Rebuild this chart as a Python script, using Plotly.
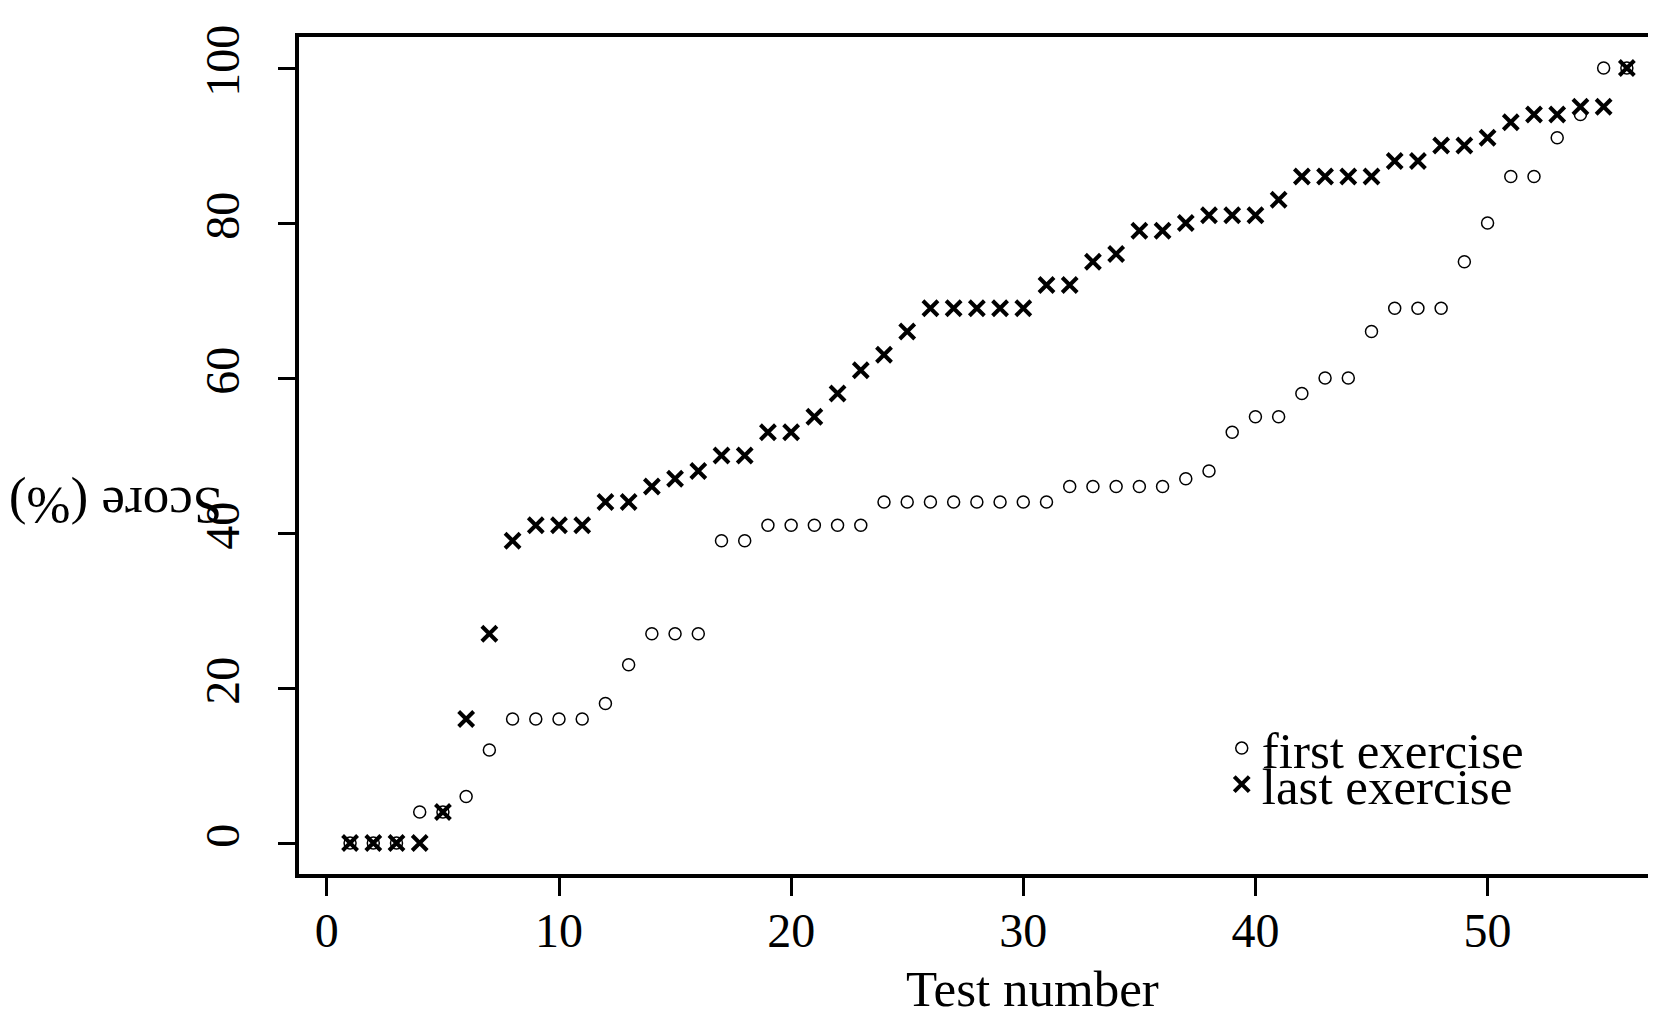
import plotly.graph_objects as go

test_no = list(range(1, 57))
first_ex = [0, 0, 0, 4, 4, 6, 12, 16, 16, 16, 16, 18, 23, 27, 27, 27, 39, 39, 41, 41,
            41, 41, 41, 44, 44, 44, 44, 44, 44, 44, 44, 46, 46, 46, 46, 46, 47, 48, 53, 55,
            55, 58, 60, 60, 66, 69, 69, 69, 75, 80, 86, 86, 91, 94, 100, 100]
last_ex = [0, 0, 0, 0, 4, 16, 27, 39, 41, 41, 41, 44, 44, 46, 47, 48, 50, 50, 53, 53,
           55, 58, 61, 63, 66, 69, 69, 69, 69, 69, 72, 72, 75, 76, 79, 79, 80, 81, 81, 81,
           83, 86, 86, 86, 86, 88, 88, 90, 90, 91, 93, 94, 94, 95, 95, 100]

serif = "Liberation Serif, Times New Roman, serif"

fig = go.Figure()
fig.add_trace(go.Scatter(x=test_no, y=first_ex, mode="markers", name="first exercise",
                         marker=dict(symbol="circle-open", size=12, color="black",
                                     line=dict(width=1.5, color="black")),
                         legend="legend", showlegend=True))
fig.add_trace(go.Scatter(x=test_no, y=last_ex, mode="markers", name="last exercise",
                         marker=dict(symbol="x-thin", size=15, color="black",
                                     line=dict(width=4, color="black")),
                         legend="legend2", showlegend=True))

axis_common = dict(showgrid=False, zeroline=False, showline=True, linewidth=3.5,
                   linecolor="black", ticks="outside", tickwidth=3, tickcolor="black",
                   automargin=False,
                   tickfont=dict(family=serif, size=48, color="black"))

fig.update_layout(
    width=1656, height=1016,
    margin=dict(l=291, r=0, t=29, b=150),
    plot_bgcolor="white", paper_bgcolor="white",
    showlegend=True,
    xaxis=dict(range=[-1.2, 57.6], tickvals=[0, 10, 20, 30, 40, 50], ticklen=18,
               ticklabelstandoff=-6, mirror=True, **axis_common),
    yaxis=dict(range=[-4, 104], tickvals=[0, 20, 40, 60, 80, 100], ticklen=17,
               tickangle=-90, ticklabelstandoff=20, **axis_common),
    legend=dict(x=0.676, y=0.15, xanchor="left", yanchor="middle", bgcolor="rgba(0,0,0,0)",
                font=dict(family=serif, size=51, color="black")),
    legend2=dict(x=0.676, y=0.107, xanchor="left", yanchor="middle", bgcolor="rgba(0,0,0,0)",
                 font=dict(family=serif, size=51, color="black")),
    annotations=[
        dict(text="Test number", xref="paper", yref="paper", x=0.537, y=-0.137,
             xanchor="center", yanchor="middle", showarrow=False,
             font=dict(family=serif, size=51, color="black")),
        dict(text="Score (%)", xref="paper", yref="paper", x=-0.134, y=0.44,
             xanchor="center", yanchor="middle", showarrow=False, textangle=180,
             font=dict(family=serif, size=53, color="black")),
    ],
)

fig.write_html("out.html")
